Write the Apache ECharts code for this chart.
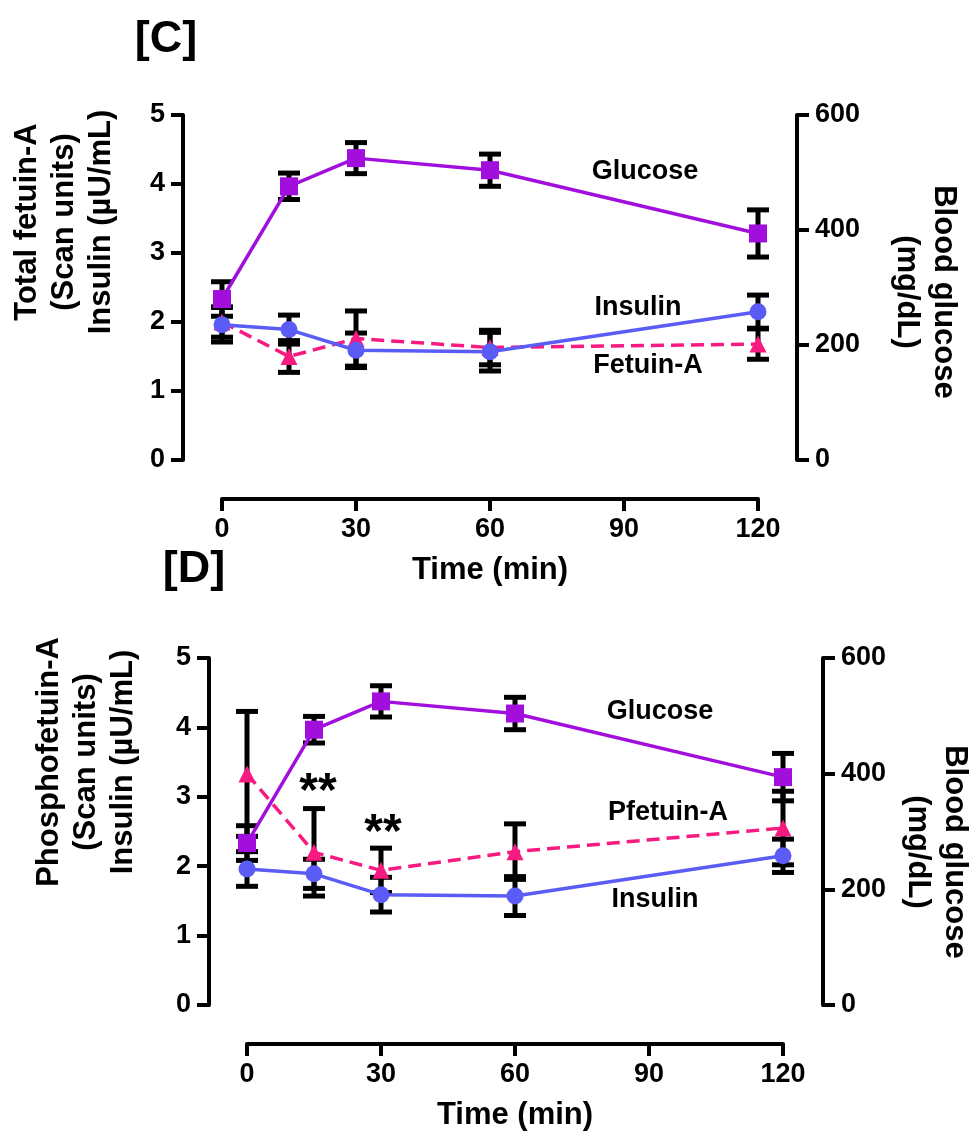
<!DOCTYPE html>
<html>
<head>
<meta charset="utf-8">
<script src="https://cdn.jsdelivr.net/npm/echarts@6/dist/echarts.min.js"></script>
<style>
  html, body { margin: 0; padding: 0; background: #fff; }
  #chart { width: 973px; height: 1137px; }
</style>
</head>
<body>
<div id="chart"></div>
<script>
// data (mean and error half-width)
var timeMin = [0, 15, 30, 60, 120];
var glucoseMean = [280, 476, 525, 504, 394];
var glucoseErr = [30, 23, 27, 28, 41];
var insulinMean = [1.96, 1.89, 1.59, 1.57, 2.15];
var insulinErr = [0.25, 0.21, 0.25, 0.28, 0.24];
var fetuinMean = [2.0, 1.50, 1.76, 1.63, 1.68];
var fetuinErr = [0.22, 0.23, 0.40, 0.25, 0.22];
var pfetuinMean = [3.33, 2.20, 1.94, 2.21, 2.55];
var pfetuinErr = [0.90, 0.63, 0.32, 0.40, 0.53];

var FONT = "'Liberation Sans', Arial, sans-serif";
var C_GLU = '#A20FDD', C_INS = '#5B5BF6', C_FET = '#F71A80';

function pairs(y) {
    return timeMin.map(function (t, i) { return [t, y[i]]; });
}
function errData(y, e) {
    return timeMin.map(function (t, i) { return [t, y[i] - e[i], y[i] + e[i]]; });
}

function errorBar(params, api) {
    var x = api.value(0);
    var lo = api.coord([x, api.value(1)]);
    var hi = api.coord([x, api.value(2)]);
    var w = 11;
    var st = { stroke: '#000', lineWidth: 5 };
    return {
        type: 'group',
        children: [
            { type: 'line', shape: { x1: hi[0], y1: hi[1], x2: lo[0], y2: lo[1] }, style: st },
            { type: 'line', shape: { x1: hi[0] - w, y1: hi[1], x2: hi[0] + w, y2: hi[1] }, style: st },
            { type: 'line', shape: { x1: lo[0] - w, y1: lo[1], x2: lo[0] + w, y2: lo[1] }, style: st }
        ]
    };
}

function xAxisOpt(grid) {
    return {
        type: 'value', gridIndex: grid, min: 0, max: 120, interval: 30,
        offset: 39,
        name: 'Time (min)', nameLocation: 'middle', nameGap: 56,
        nameTextStyle: { fontFamily: FONT, fontWeight: 'bold', fontSize: 31, color: '#000' },
        axisLine: { show: true, onZero: false, lineStyle: { color: '#000', width: 4 } },
        axisTick: { show: true, length: 12, lineStyle: { color: '#000', width: 4 } },
        axisLabel: { margin: 17, fontFamily: FONT, fontWeight: 'bold', fontSize: 27, color: '#000' },
        splitLine: { show: false }
    };
}
function yAxisOpt(grid, pos, max, interval, off) {
    return {
        type: 'value', gridIndex: grid, position: pos, min: 0, max: max, interval: interval,
        offset: off,
        axisLine: { show: true, onZero: false, lineStyle: { color: '#000', width: 4 } },
        axisTick: { show: true, length: 12, lineStyle: { color: '#000', width: 4 } },
        axisLabel: { margin: 18, fontFamily: FONT, fontWeight: 'bold', fontSize: 27, color: '#000' },
        splitLine: { show: false }
    };
}

function lineSeries(name, data, xi, yi, color, symbol, size, dashed) {
    return {
        name: name, type: 'line', data: data, xAxisIndex: xi, yAxisIndex: yi,
        symbol: symbol, symbolSize: size, z: 5,
        itemStyle: { color: color },
        lineStyle: { color: color, width: 3.5, type: dashed ? [13, 7] : 'solid' }
    };
}
function errSeries(data, xi, yi) {
    return {
        type: 'custom', data: data, xAxisIndex: xi, yAxisIndex: yi,
        renderItem: errorBar, encode: { x: 0, y: [1, 2] }, z: 2
    };
}

function txt(text, x, y, size, rot) {
    return {
        type: 'text', x: x, y: y, rotation: rot || 0,
        style: {
            text: text, fill: '#000', align: 'center', verticalAlign: 'middle',
            font: 'bold ' + size + 'px ' + FONT, lineHeight: size + 6
        }
    };
}

var myChart = echarts.init(document.getElementById('chart'));
myChart.setOption({
    animation: false,
    backgroundColor: '#fff',
    grid: [
        { left: 222, width: 536, top: 115, height: 345 },
        { left: 247, width: 536, top: 658, height: 347 }
    ],
    xAxis: [xAxisOpt(0), xAxisOpt(1)],
    yAxis: [
        yAxisOpt(0, 'left', 5, 1, 39),
        yAxisOpt(0, 'right', 600, 200, 39),
        yAxisOpt(1, 'left', 5, 1, 38),
        yAxisOpt(1, 'right', 600, 200, 40)
    ],
    series: [
        // panel C
        errSeries(errData(fetuinMean, fetuinErr), 0, 0),
        errSeries(errData(insulinMean, insulinErr), 0, 0),
        errSeries(errData(glucoseMean, glucoseErr), 0, 1),
        lineSeries('Fetuin-A', pairs(fetuinMean), 0, 0, C_FET, 'triangle', 17, true),
        lineSeries('Insulin', pairs(insulinMean), 0, 0, C_INS, 'circle', 17, false),
        lineSeries('Glucose', pairs(glucoseMean), 0, 1, C_GLU, 'rect', 18, false),
        // panel D
        errSeries(errData(pfetuinMean, pfetuinErr), 1, 2),
        errSeries(errData(insulinMean, insulinErr), 1, 2),
        errSeries(errData(glucoseMean, glucoseErr), 1, 3),
        lineSeries('Pfetuin-A', pairs(pfetuinMean), 1, 2, C_FET, 'triangle', 17, true),
        lineSeries('Insulin', pairs(insulinMean), 1, 2, C_INS, 'circle', 17, false),
        lineSeries('Glucose', pairs(glucoseMean), 1, 3, C_GLU, 'rect', 18, false)
    ],
    graphic: [
        txt('[C]', 166, 40, 45),
        txt('[D]', 194, 570, 45),
        // axis titles
        txt('Total fetuin-A\n(Scan units)\nInsulin (\u00b5U/mL)', 64, 222, 31, Math.PI / 2),
        txt('Blood glucose\n(mg/dL)', 925, 292, 31, -Math.PI / 2),
        txt('Phosphofetuin-A\n(Scan units)\nInsulin (\u00b5U/mL)', 86, 762, 31, Math.PI / 2),
        txt('Blood glucose\n(mg/dL)', 936, 852, 31, -Math.PI / 2),
        // series labels
        txt('Glucose', 645, 172, 27),
        txt('Insulin', 638, 308, 27),
        txt('Fetuin-A', 648, 366, 27),
        txt('Glucose', 660, 712, 27),
        txt('Pfetuin-A', 668, 813, 27),
        txt('Insulin', 655, 900, 27),
        txt('**', 318, 793, 48),
        txt('**', 383, 834, 48)
    ]
});
</script>
</body>
</html>
